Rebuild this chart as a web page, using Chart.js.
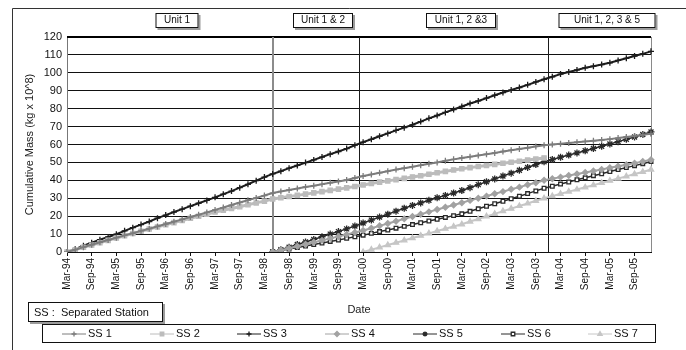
<!DOCTYPE html>
<html>
<head>
<meta charset="utf-8">
<title>Cumulative Mass - Separated Stations</title>
<script src="https://cdn.jsdelivr.net/npm/chart.js@4.4.0/dist/chart.umd.min.js"></script>
<style>
  html, body { margin: 0; padding: 0; background: #fff; }
  #wrap { width: 686px; height: 350px; }
</style>
</head>
<body>
<div id="wrap"><canvas id="massChart" width="686" height="350"></canvas></div>
<script>
// Fechas (cada 2 meses, Mar-94 a Jan-06)
const dates = [
  'Mar-94','May-94','Jul-94','Sep-94','Nov-94','Jan-95','Mar-95','May-95','Jul-95','Sep-95','Nov-95','Jan-96',
  'Mar-96','May-96','Jul-96','Sep-96','Nov-96','Jan-97','Mar-97','May-97','Jul-97','Sep-97','Nov-97','Jan-98',
  'Mar-98','May-98','Jul-98','Sep-98','Nov-98','Jan-99','Mar-99','May-99','Jul-99','Sep-99','Nov-99','Jan-00',
  'Mar-00','May-00','Jul-00','Sep-00','Nov-00','Jan-01','Mar-01','May-01','Jul-01','Sep-01','Nov-01','Jan-02',
  'Mar-02','May-02','Jul-02','Sep-02','Nov-02','Jan-03','Mar-03','May-03','Jul-03','Sep-03','Nov-03','Jan-04',
  'Mar-04','May-04','Jul-04','Sep-04','Nov-04','Jan-05','Mar-05','May-05','Jul-05','Sep-05','Nov-05','Jan-06'
];

// Series (kg x 10^8)
const ss1 = [0, 1.3, 2.7, 4.0, 5.4, 6.7, 8.0, 9.3, 10.5, 11.8, 13.0, 14.3,
  15.6, 16.9, 18.2, 19.5, 20.8, 22.1, 23.5, 24.8, 26.2, 27.6, 28.9, 30.2,
  31.5, 32.9, 33.8, 34.6, 35.4, 36.3, 37.0, 37.8, 38.6, 39.4, 40.2, 41.3,
  42.4, 43.3, 44.2, 45.1, 46.0, 46.8, 47.6, 48.4, 49.3, 50.0, 50.9, 51.7,
  52.5, 53.2, 53.9, 54.6, 55.3, 56.1, 56.8, 57.5, 58.2, 58.9, 59.6, 60.0,
  60.4, 60.9, 61.3, 61.7, 62.1, 62.5, 63.0, 63.6, 64.2, 64.8, 65.4, 66.0];

const ss2 = [0, 1.3, 2.6, 3.9, 5.2, 6.5, 7.8, 9.1, 10.3, 11.6, 12.8, 14.0,
  15.2, 16.4, 17.6, 18.8, 19.9, 21.1, 22.3, 23.3, 24.3, 25.3, 26.4, 27.4,
  28.4, 29.6, 30.3, 31.0, 31.6, 32.3, 33.0, 33.7, 34.4, 35.1, 35.8, 36.6,
  37.4, 38.2, 39.0, 39.7, 40.4, 41.1, 41.9, 42.6, 43.4, 44.2, 45.0, 45.8,
  46.5, 47.1, 47.7, 48.3, 48.9, 49.5, 50.1, 50.7, 51.3, 51.9, 52.5, null,
  null, null, null, null, null, null, null, null, null, null, null, null];

const ss3 = [0, 1.6, 3.5, 5.2, 6.9, 8.4, 9.9, 11.8, 13.6, 15.3, 17.0, 18.9,
  20.6, 22.3, 23.9, 25.6, 27.2, 28.8, 30.5, 32.3, 34.0, 35.9, 37.8, 39.8,
  41.8, 43.6, 45.1, 46.8, 48.3, 49.9, 51.4, 53.0, 54.6, 56.1, 57.7, 59.6,
  61.3, 62.9, 64.6, 66.2, 67.9, 69.4, 71.0, 72.8, 74.6, 76.2, 77.9, 79.5,
  81.2, 82.9, 84.3, 85.9, 87.5, 89.0, 90.4, 91.8, 93.3, 94.9, 96.4, 97.8,
  99.3, 100.5, 101.6, 102.8, 103.7, 104.6, 105.6, 106.9, 108.1, 109.4, 110.6, 112.0];

const ss4 = [null, null, null, null, null, null, null, null, null, null, null, null,
  null, null, null, null, null, null, null, null, null, null, null, null,
  null, 0, 1.0, 2.1, 3.2, 4.3, 5.4, 6.5, 7.6, 8.7, 9.8, 10.9,
  12.0, 13.3, 14.6, 15.9, 17.2, 18.5, 19.8, 21.1, 22.4, 23.7, 25.0, 26.2,
  27.5, 28.8, 30.0, 31.2, 32.5, 33.7, 35.0, 36.2, 37.5, 38.7, 40.0, 40.9,
  41.8, 42.7, 43.5, 44.4, 45.2, 46.1, 47.0, 47.9, 48.7, 49.6, 50.5, 51.5];

const ss5 = [null, null, null, null, null, null, null, null, null, null, null, null,
  null, null, null, null, null, null, null, null, null, null, null, null,
  null, 0, 1.3, 2.7, 4.2, 5.6, 7.0, 8.5, 10.0, 11.4, 12.9, 14.5,
  16.2, 17.8, 19.5, 21.1, 22.8, 24.4, 26.0, 27.4, 28.9, 30.3, 31.6, 32.9,
  34.3, 35.9, 37.6, 39.2, 40.8, 42.4, 44.0, 45.6, 47.2, 48.8, 50.4, 51.6,
  52.9, 54.1, 55.3, 56.5, 57.8, 59.0, 60.3, 61.6, 62.9, 64.2, 65.6, 67.0];

const ss6 = [null, null, null, null, null, null, null, null, null, null, null, null,
  null, null, null, null, null, null, null, null, null, null, null, null,
  null, 0, 0.8, 1.6, 2.5, 3.3, 4.2, 5.0, 5.9, 6.7, 7.6, 8.5,
  9.4, 10.4, 11.4, 12.3, 13.3, 14.3, 15.3, 16.3, 17.3, 18.3, 19.3, 20.3,
  21.3, 22.7, 24.1, 25.5, 26.9, 28.3, 29.7, 31.1, 32.6, 34.1, 35.6, 36.7,
  37.9, 39.1, 40.3, 41.4, 42.6, 43.7, 44.9, 46.0, 47.1, 48.2, 49.3, 50.5];

const ss7 = [null, null, null, null, null, null, null, null, null, null, null, null,
  null, null, null, null, null, null, null, null, null, null, null, null,
  null, null, null, null, null, null, null, null, null, null, null, null,
  0, 1.3, 2.6, 3.9, 5.2, 6.5, 7.8, 9.1, 10.4, 11.7, 13.0, 14.2,
  15.5, 17.0, 18.4, 19.9, 21.3, 22.8, 24.2, 25.7, 27.1, 28.6, 30.0, 31.2,
  32.5, 33.7, 34.9, 36.1, 37.3, 38.6, 39.8, 41.0, 42.2, 43.5, 44.7, 46.0];

// Periodos de operación
const unitStarts = ['May-98', 'Feb-00', 'Dec-03'];
const unitLabels = ['Unit 1', 'Unit 1 & 2', 'Unit 1, 2 &3', 'Unit 1, 2, 3 & 5'];
const yTicks = [0, 10, 20, 30, 40, 50, 60, 70, 80, 90, 100, 110, 120];

const FONT = '"Liberation Sans", Arial, sans-serif';
const MONTHS = ['Jan','Feb','Mar','Apr','May','Jun','Jul','Aug','Sep','Oct','Nov','Dec'];

// Convierte 'Mmm-yy' a índice (fraccional) de la escala de categorías
const dateIndex = (label) => {
    const [mon, yy] = label.split('-');
    const year = Number(yy) < 50 ? 2000 + Number(yy) : 1900 + Number(yy);
    const first = dates[0].split('-');
    const year0 = 1900 + Number(first[1]);
    const months = (year * 12 + MONTHS.indexOf(mon)) - (year0 * 12 + MONTHS.indexOf(first[0]));
    return months / 2;
};

// Caja con sombra estilo Excel
const shadowBox = (ctx, x, y, w, h) => {
    ctx.fillStyle = '#9c9c9c';
    ctx.fillRect(x + 2, y + 2, w, h);
    ctx.fillStyle = '#fff';
    ctx.fillRect(x, y, w, h);
    ctx.strokeStyle = '#111';
    ctx.lineWidth = 1;
    ctx.strokeRect(x + 0.5, y + 0.5, w - 1, h - 1);
};

const decorations = {
    id: 'decorations',
    beforeDatasetsDraw(chart) {
        const { ctx, chartArea: a, scales: { x } } = chart;
        ctx.save();
        // borde derecho y superior del área
        ctx.strokeStyle = '#8a8a8a';
        ctx.lineWidth = 1;
        ctx.beginPath();
        ctx.moveTo(Math.round(a.right) + 0.5, a.top);
        ctx.lineTo(Math.round(a.right) + 0.5, a.bottom);
        ctx.stroke();
        ctx.strokeStyle = '#000';
        ctx.lineWidth = 2;
        ctx.beginPath();
        ctx.moveTo(a.left, Math.round(a.top));
        ctx.lineTo(a.right, Math.round(a.top));
        ctx.stroke();
        // líneas de inicio de cada unidad
        unitStarts.forEach((d, i) => {
            const px = Math.round(x.getPixelForValue(dateIndex(d)));
            ctx.strokeStyle = i === 0 ? '#8c8c8c' : '#1a1a1a';
            ctx.lineWidth = i === 0 ? 2 : 1;
            ctx.beginPath();
            ctx.moveTo(px + (i === 0 ? 0 : 0.5), a.top);
            ctx.lineTo(px + (i === 0 ? 0 : 0.5), a.bottom);
            ctx.stroke();
        });
        ctx.restore();
    },
    afterDraw(chart) {
        const { ctx, chartArea: a, scales: { x } } = chart;
        ctx.save();
        // marco exterior
        ctx.strokeStyle = '#333';
        ctx.lineWidth = 1;
        ctx.beginPath();
        ctx.moveTo(12.5, 350);
        ctx.lineTo(12.5, 8.5);
        ctx.lineTo(686, 8.5);
        ctx.stroke();

        // etiquetas de unidades
        ctx.font = '10px ' + FONT;
        ctx.textAlign = 'center';
        ctx.textBaseline = 'middle';
        const edges = [a.left, ...unitStarts.map(d => x.getPixelForValue(dateIndex(d))), a.right];
        const boxW = [43, 60, 70, 97];
        unitLabels.forEach((txt, i) => {
            const cx = Math.round((edges[i] + edges[i + 1]) / 2 + 7);
            const w = boxW[i];
            shadowBox(ctx, cx - w / 2, 13, w, 15);
            ctx.fillStyle = '#111';
            ctx.fillText(txt, cx, 20.5);
        });

        // nota SS
        shadowBox(ctx, 28, 302, 135, 20);
        ctx.font = '11px ' + FONT;
        ctx.textAlign = 'left';
        ctx.fillStyle = '#111';
        ctx.fillText('SS :  Separated Station', 34, 312.5);

        // leyenda
        const lx = 42, ly = 324, lw = 614, lh = 19;
        ctx.fillStyle = '#fff';
        ctx.fillRect(lx, ly, lw, lh);
        ctx.strokeStyle = '#111';
        ctx.lineWidth = 1;
        ctx.strokeRect(lx + 0.5, ly + 0.5, lw - 1, lh - 1);
        const slot = lw / chart.data.datasets.length;
        chart.data.datasets.forEach((ds, i) => {
            const sx = Math.round(lx + 20 + i * slot);
            const cy = ly + lh / 2 + 0.5;
            ctx.strokeStyle = ds.borderColor;
            ctx.lineWidth = 1;
            ctx.beginPath();
            ctx.moveTo(sx, cy);
            ctx.lineTo(sx + 24, cy);
            ctx.stroke();
            ctx.fillStyle = ds.pointBackgroundColor;
            ctx.strokeStyle = ds.pointBorderColor;
            ctx.lineWidth = ds.pointBorderWidth;
            Chart.helpers.drawPoint(ctx, {
                pointStyle: ds.pointStyle,
                radius: Math.min(ds.pointRadius, 2.5),
                borderWidth: ds.pointBorderWidth,
                rotation: 0
            }, sx + 12, cy);
            ctx.fillStyle = '#111';
            ctx.font = '11px ' + FONT;
            ctx.textAlign = 'left';
            ctx.fillText(ds.label, sx + 26, cy);
        });
        ctx.restore();
    }
};

const series = (label, data, color, pointStyle, radius, width, fill) => ({
    label,
    data,
    borderColor: color,
    backgroundColor: fill || color,
    borderWidth: width,
    pointStyle,
    pointRadius: radius,
    pointBorderColor: color,
    pointBackgroundColor: fill || color,
    pointBorderWidth: 1.3,
    tension: 0,
    spanGaps: false
});

new Chart(document.getElementById('massChart'), {
    type: 'line',
    data: {
        labels: dates,
        datasets: [
            series('SS 1', ss1, '#7c7c7c', 'cross', 3, 2),
            series('SS 2', ss2, '#bcbcbc', 'rect', 3, 3),
            series('SS 3', ss3, '#1c1c1c', 'cross', 3, 2),
            series('SS 4', ss4, '#a2a2a2', 'rectRot', 2.8, 2),
            series('SS 5', ss5, '#2a2a2a', 'star', 3.5, 1.5),
            series('SS 6', ss6, '#2a2a2a', 'rect', 2.6, 1.5, '#ffffff'),
            series('SS 7', ss7, '#c6c6c6', 'triangle', 3, 2)
        ]
    },
    options: {
        responsive: false,
        animation: false,
        devicePixelRatio: 1,
        layout: { padding: { left: 12, right: 35, top: 37, bottom: 30 } },
        plugins: {
            legend: { display: false },
            tooltip: { enabled: false }
        },
        scales: {
            x: {
                type: 'category',
                offset: false,
                afterFit: (scale) => { scale.height = 68; },
                grid: { display: true, drawOnChartArea: false, drawTicks: true, tickLength: 4, color: '#111' },
                border: { display: true, color: '#111' },
                ticks: {
                    autoSkip: false,
                    minRotation: 90,
                    maxRotation: 90,
                    padding: 2,
                    color: '#111',
                    font: { family: FONT, size: 10 },
                    callback: (val, idx) => (idx % 3 === 0 ? dates[idx] : null)
                },
                title: {
                    display: true,
                    text: 'Date',
                    color: '#222',
                    font: { family: FONT, size: 11 },
                    padding: { top: 0, bottom: 3 }
                }
            },
            y: {
                min: yTicks[0],
                max: yTicks[yTicks.length - 1],
                afterFit: (scale) => { scale.width = 55; },
                afterBuildTicks: (scale) => { scale.ticks = yTicks.map(v => ({ value: v })); },
                grid: { color: '#111', lineWidth: 1, drawTicks: false },
                border: { display: true, color: '#777' },
                ticks: {
                    padding: 5,
                    color: '#111',
                    font: { family: FONT, size: 11 }
                },
                title: {
                    display: true,
                    text: 'Cumulative Mass (kg x 10^8)',
                    color: '#222',
                    font: { family: FONT, size: 11 },
                    padding: { top: 11, bottom: 0 }
                }
            }
        }
    },
    plugins: [decorations]
});
</script>
</body>
</html>
